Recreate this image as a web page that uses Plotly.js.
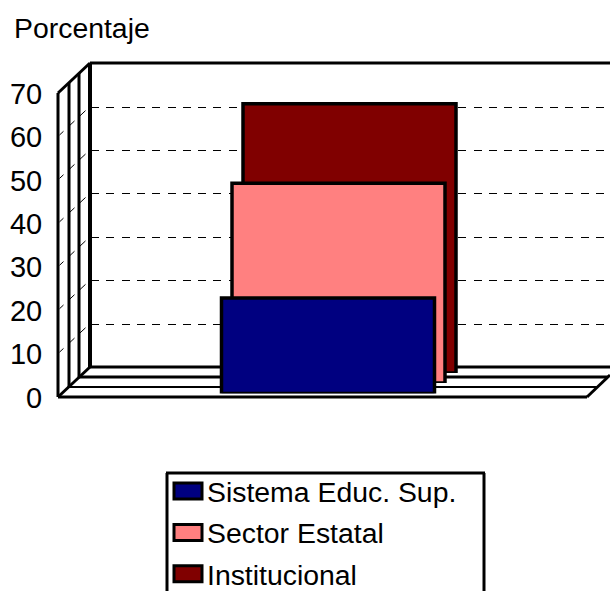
<!DOCTYPE html>
<html><head><meta charset="utf-8">
<script src="https://cdn.plot.ly/plotly-3.0.1.min.js"></script>
<style>html,body{margin:0;padding:0;background:#fff;overflow:hidden}</style>
</head><body><div id="chart" style="width:610px;height:591px"></div>
<script>
const categories = ['Porcentaje'];
const seriesNames = ['Sistema Educ. Sup.', 'Sector Estatal', 'Institucional'];
const sistemaEduc = [22];
const sectorEstatal = [46];
const institucional = [62];
const seriesColors = ['#000080', '#FF8080', '#800000'];
const yTicks = [0, 10, 20, 30, 40, 50, 60, 70];

const W = 610, H = 591, FONT = '"Liberation Sans", Arial, sans-serif', FS = 28.4;
const dx = (a, b) => [a / W, b / W];
const dy = (bottom, top) => [(H - bottom) / H, (H - top) / H];
const PXU = 304 / 70;           // px per unit on the wall
const hidden = {visible: false, fixedrange: true};
const xHidden = (a, b) => Object.assign({}, hidden, {domain: dx(a, b), range: [-0.5, 0.5], type: 'category'});
const yPlane = base => ({domain: dy(base, base - 304), range: [0, 70], visible: false, fixedrange: true});

function seg(x0, y0, x1, y1, w, extra) {
  return Object.assign({type: 'line', xref: 'paper', yref: 'paper', layer: 'below',
    x0: x0 / W, x1: x1 / W, y0: 1 - y0 / H, y1: 1 - y1 / H,
    line: {color: '#000', width: w}}, extra || {});
}
const planesX = [58, 69, 79, 90], planesB = [397, 387, 377, 367], planesT = [93, 83, 73, 63];
const shapes = [];
planesX.forEach((x, i) => {
  shapes.push(seg(x, planesT[i], x, planesB[i], i === 3 ? 4 : 3));
  shapes.push(seg(x, planesB[i], Math.min(x + 529, 610), planesB[i], i === 1 ? 2 : 3));
});
shapes.push(seg(58, 93, 90, 63, 3));
shapes.push(seg(90, 63, 610, 63, 3));
shapes.push(seg(58, 397, 90, 367, 3));
shapes.push(seg(587, 397, 610, 375, 3));
// side-wall gridline dashes
yTicks.slice(1, -1).forEach(v => {
  const yf = 397 - v * PXU;
  [[1.5, 5.5], [12, 16.5], [22, 27.5]].forEach(p => {
    shapes.push(seg(58 + p[0], yf - p[0] * 30 / 32, 58 + p[1], yf - p[1] * 30 / 32, 1));
  });
});
// legend frame, open at the clipped bottom edge
shapes.push(seg(167, 591, 167, 473, 3));
shapes.push(seg(166, 473, 485, 473, 3));
shapes.push(seg(484, 473, 484, 591, 3));

function barTrace(name, vals, color, n) {
  return {type: 'bar', name: name, x: categories, y: vals, xaxis: 'x' + n, yaxis: 'y' + n,
    width: 213 / 260, cliponaxis: false, legendgroup: name, hoverinfo: 'skip',
    marker: {color: color, line: {color: '#000', width: 3.5}}};
}
const axisHolder = n => ({type: 'scatter', mode: 'none', x: [0], y: [0], xaxis: n === 1 ? 'x' : 'x' + n, yaxis: n === 1 ? 'y' : 'y' + n,
  showlegend: false, hoverinfo: 'skip'});
const data = [
  axisHolder(1), axisHolder(2),
  barTrace(seriesNames[0], sistemaEduc, seriesColors[0], 5),
  barTrace(seriesNames[1], sectorEstatal, seriesColors[1], 4),
  barTrace(seriesNames[2], institucional, seriesColors[2], 3)
];
const layout = {
  width: W, height: H, margin: {l: 0, r: 0, t: 0, b: 0, pad: 0},
  paper_bgcolor: '#fff', plot_bgcolor: 'rgba(0,0,0,0)',
  font: {family: FONT, color: '#000', size: FS},
  title: {text: 'Porcentaje', x: 14 / W, xanchor: 'left', xref: 'paper', y: 1 - 28 / H, yanchor: 'middle',
    font: {family: FONT, size: FS, color: '#000'}},
  showlegend: true,
  legend: {x: 167 / W, xanchor: 'left', y: 1 - 450 / H, yanchor: 'top', traceorder: 'grouped', tracegroupgap: 1.5,
    bgcolor: 'rgba(0,0,0,0)', borderwidth: 0, itemclick: false, itemdoubleclick: false,
    font: {family: FONT, size: FS, color: '#000'}},
  shapes: shapes,
  // front plane: value labels
  xaxis: {domain: dx(58, 587), visible: false, fixedrange: true, range: [0, 1]},
  yaxis: {domain: dy(397.5, 93.5), range: [0, 70], tickvals: yTicks, ticks: 'outside', ticklen: 9, tickcolor: 'rgba(0,0,0,0)',
    showgrid: false, zeroline: false, showline: false, fixedrange: true, anchor: 'x',
    tickfont: {family: FONT, size: 29, color: '#000'}},
  // back wall: dashed gridlines
  xaxis2: {domain: dx(91, 606), visible: false, fixedrange: true, range: [0, 1], anchor: 'y2'},
  yaxis2: {domain: dy(367.6, 63.6), range: [0, 70], tickvals: yTicks.slice(1, -1), showticklabels: false, ticks: '',
    showgrid: true, gridcolor: '#000', gridwidth: 1, griddash: '8px,7.3px', zeroline: false, showline: false, fixedrange: true, anchor: 'x2'},
  xaxis3: Object.assign(xHidden(219.5, 479.5), {anchor: 'y3'}), yaxis3: Object.assign(yPlane(373), {anchor: 'x3'}),
  xaxis4: Object.assign(xHidden(208.5, 468.5), {anchor: 'y4'}), yaxis4: Object.assign(yPlane(383), {anchor: 'x4'}),
  xaxis5: Object.assign(xHidden(198, 458), {anchor: 'y5'}), yaxis5: Object.assign(yPlane(393.5), {anchor: 'x5'})
};
Plotly.newPlot('chart', data, layout, {displayModeBar: false, staticPlot: true}).then(() => {
  document.querySelectorAll('.legend .legendbar path, .legend .legendpoints path').forEach(p => {
    p.setAttribute('d', 'M15,8H-13V-8H15Z');
    p.style.strokeWidth = '3px';
  });
  // the reference legend runs past the page bottom; Plotly would shrink the plot for that, so nudge it afterwards
  const lg = document.querySelector('.legend');
  const m = /translate\(\s*([-\d.]+)[ ,]+([-\d.]+)\)/.exec(lg.getAttribute('transform'));
  lg.setAttribute('transform', 'translate(' + (+m[1]) + ',' + (+m[2] + 16) + ')');
});
</script></body></html>
